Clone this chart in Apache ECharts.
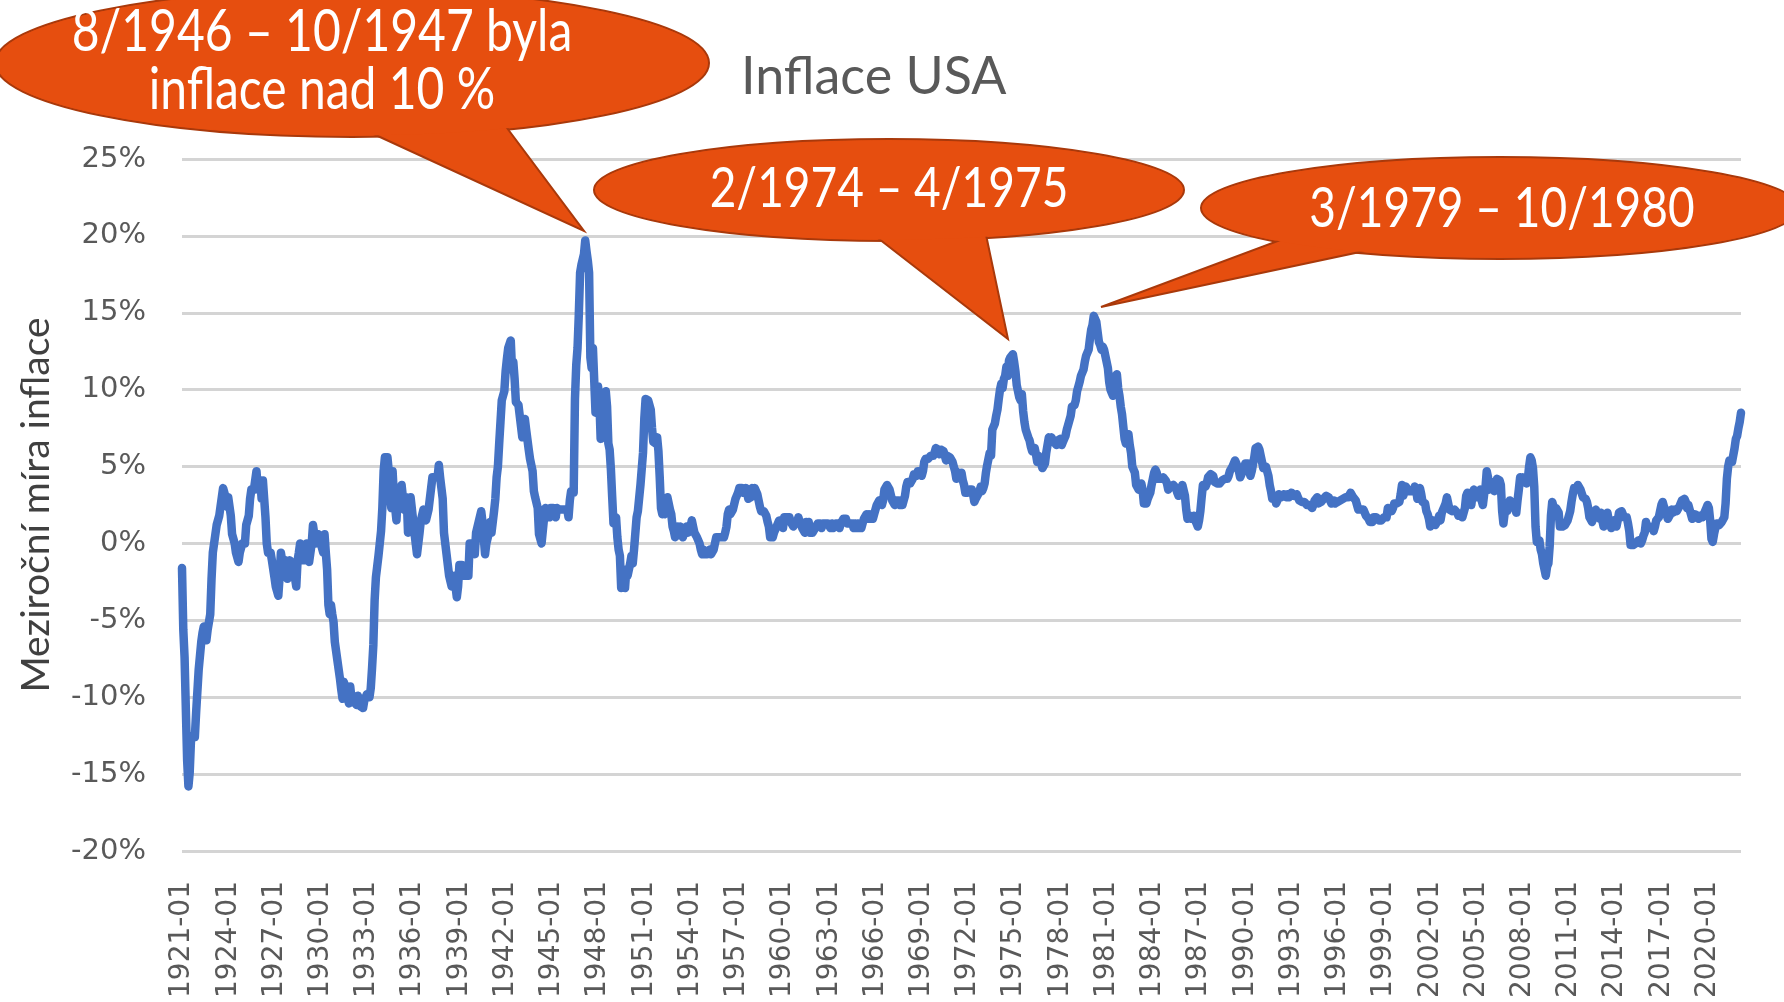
<!DOCTYPE html>
<html>
<head>
<meta charset="utf-8">
<title>Inflace USA</title>
<script src="https://cdn.jsdelivr.net/npm/echarts@6/dist/echarts.min.js"></script>
<style>
  html, body { margin: 0; padding: 0; background: #fff; }
  #chart { width: 1784px; height: 1002px; }
</style>
</head>
<body>
<div id="chart"></div>
<script>
// meziroční inflace USA (CPI-U), měsíčně, v %
const prvniRok = 1921
const inflace = [
  -1.6, -5.6, -7.4, -10.8, -14.1, -15.8, -14.9, -12.8, -12.5, -12.5, -12.6, -11.0, // 1921
  -11.1, -8.2, -8.2, -6.4, -5.8, -5.4, -5.3, -6.3, -5.6, -5.6, -4.6, -2.3, // 1922
  -0.6, 0.0, 0.6, 1.2, 1.2, 1.8, 2.4, 3.0, 3.6, 3.6, 3.0, 2.4, // 1923
  3.0, 2.4, 1.8, 0.6, 0.6, 0.0, -0.6, -0.6, -1.2, -0.6, -0.6, 0.0, // 1924
  0.0, 0.0, 1.2, 1.2, 1.8, 2.9, 3.5, 3.5, 3.5, 3.5, 4.7, 3.5, // 1925
  3.5, 4.1, 2.9, 4.1, 2.9, 1.7, 0.0, -0.6, -0.6, -0.6, -1.1, -1.1, // 1926
  -2.2, -2.8, -2.8, -3.4, -2.2, -0.6, -1.1, -1.1, -1.7, -1.1, -2.3, -2.3, // 1927
  -1.1, -1.7, -1.7, -1.7, -1.7, -2.8, -1.1, -0.6, 0.0, -1.1, -0.6, -1.1, // 1928
  -1.2, 0.0, -0.6, -1.2, -1.2, 0.0, 1.2, 1.2, 0.0, 0.0, 0.6, 0.6, // 1929
  0.0, 0.0, -0.6, 0.6, -0.6, -1.7, -4.0, -4.6, -4.0, -4.6, -5.1, -6.4, // 1930
  -7.0, -7.6, -7.6, -8.8, -9.5, -10.1, -9.0, -8.9, -9.6, -9.7, -10.4, -9.3, // 1931
  -10.1, -10.2, -10.3, -10.4, -10.5, -9.9, -9.9, -10.6, -10.7, -10.7, -10.2, -10.3, // 1932
  -9.8, -9.9, -10.0, -9.4, -8.1, -6.6, -3.7, -2.2, -1.5, -0.8, -0.8, 0.8, // 1933
  2.3, 4.7, 5.6, 5.6, 5.6, 4.7, 3.1, 2.3, 4.7, 3.1, 2.3, 1.5, // 1934
  3.0, 3.0, 3.0, 3.8, 3.8, 2.2, 2.2, 3.0, 0.7, 1.5, 3.0, 3.0, // 1935
  1.5, 0.7, 0.0, -0.7, -0.7, 0.7, 1.5, 1.5, 2.2, 2.2, 1.5, 1.5, // 1936
  2.2, 2.2, 3.6, 4.3, 4.3, 4.3, 4.3, 4.3, 5.1, 4.3, 3.6, 2.9, // 1937
  0.7, 0.0, -0.7, -0.7, -2.1, -2.1, -2.8, -2.8, -2.1, -2.8, -3.5, -2.8, // 1938
  -1.4, -1.4, -1.4, -2.1, -2.1, -2.1, -2.1, -2.1, 0.0, 0.0, 0.0, 0.0, // 1939
  -0.7, 0.7, 0.7, 1.4, 1.4, 2.1, 1.4, 1.4, -0.7, 0.0, 0.0, 0.7, // 1940
  1.4, 0.7, 1.4, 2.1, 2.9, 4.3, 5.0, 6.5, 7.9, 9.3, 9.3, 9.9, // 1941
  11.2, 12.0, 12.7, 12.6, 13.2, 11.3, 11.8, 10.7, 9.2, 9.1, 9.0, 9.0, // 1942
  7.6, 6.9, 7.5, 8.1, 7.4, 7.4, 6.1, 5.5, 5.4, 4.7, 3.4, 3.0, // 1943
  3.0, 2.3, 0.6, 0.6, 0.0, 0.0, 1.7, 2.3, 1.7, 1.7, 1.7, 2.3, // 1944
  2.3, 2.3, 2.3, 1.7, 2.3, 2.2, 2.2, 2.2, 2.2, 2.2, 2.2, 2.2, // 1945
  2.2, 1.7, 2.8, 3.4, 3.3, 3.3, 9.4, 11.6, 12.7, 14.9, 17.6, 18.1, // 1946
  18.1, 18.8, 19.7, 19.0, 18.4, 17.6, 12.1, 11.4, 12.7, 10.6, 8.5, 8.8, // 1947
  10.2, 9.3, 6.8, 8.7, 9.1, 9.5, 9.9, 8.9, 6.5, 6.1, 4.8, 3.0, // 1948
  1.3, 1.3, 1.7, 0.4, -0.4, -0.8, -2.9, -2.9, -2.5, -2.9, -1.7, -2.1, // 1949
  -2.1, -1.3, -0.8, -1.3, -0.4, -0.4, 1.7, 2.1, 2.1, 3.8, 3.8, 5.9, // 1950
  8.1, 9.4, 9.3, 9.3, 9.3, 8.7, 7.5, 6.6, 6.6, 6.5, 6.9, 6.0, // 1951
  4.3, 2.3, 1.9, 2.3, 1.9, 2.3, 3.0, 3.0, 2.2, 1.9, 1.1, 0.8, // 1952
  0.4, 0.8, 1.1, 0.8, 1.1, 1.1, 0.4, 0.7, 0.7, 1.1, 0.7, 0.7, // 1953
  1.1, 1.5, 1.1, 0.7, 0.7, 0.4, 0.4, 0.0, -0.4, -0.7, -0.4, -0.7, // 1954
  -0.7, -0.7, -0.7, -0.4, -0.7, -0.7, -0.4, -0.4, 0.4, 0.4, 0.4, 0.4, // 1955
  0.4, 0.4, 0.4, 0.7, 1.1, 1.9, 2.2, 1.9, 1.9, 2.2, 2.2, 2.9, // 1956
  2.9, 3.3, 3.6, 3.6, 3.6, 3.3, 3.3, 3.6, 3.3, 2.9, 3.3, 3.0, // 1957
  3.6, 3.2, 3.6, 3.6, 3.2, 2.8, 2.4, 2.1, 2.1, 2.1, 2.1, 1.8, // 1958
  1.4, 1.1, 0.4, 0.4, 0.4, 0.7, 0.7, 1.1, 1.1, 1.5, 1.5, 1.5, // 1959
  1.0, 1.7, 1.7, 1.7, 1.7, 1.7, 1.4, 1.4, 1.1, 1.4, 1.4, 1.4, // 1960
  1.7, 1.4, 1.4, 1.0, 1.0, 0.7, 1.4, 1.0, 1.4, 0.7, 0.7, 0.7, // 1961
  0.7, 1.0, 1.0, 1.3, 1.3, 1.3, 1.0, 1.3, 1.3, 1.3, 1.3, 1.3, // 1962
  1.3, 1.0, 1.3, 1.0, 1.0, 1.3, 1.3, 1.3, 1.0, 1.3, 1.3, 1.6, // 1963
  1.6, 1.6, 1.3, 1.3, 1.3, 1.3, 1.3, 1.0, 1.3, 1.0, 1.3, 1.0, // 1964
  1.0, 1.0, 1.3, 1.6, 1.6, 1.9, 1.6, 1.9, 1.6, 1.9, 1.6, 1.9, // 1965
  1.9, 2.5, 2.5, 2.8, 2.8, 2.5, 2.8, 3.5, 3.5, 3.8, 3.8, 3.5, // 1966
  3.5, 2.8, 2.8, 2.5, 2.8, 2.8, 2.8, 2.5, 2.8, 2.5, 2.8, 3.1, // 1967
  3.7, 4.0, 4.0, 3.9, 3.9, 4.2, 4.5, 4.5, 4.4, 4.7, 4.7, 4.7, // 1968
  4.4, 4.7, 5.3, 5.5, 5.5, 5.5, 5.4, 5.7, 5.7, 5.7, 5.9, 6.2, // 1969
  6.2, 6.1, 5.8, 6.1, 6.1, 6.0, 6.0, 5.4, 5.7, 5.7, 5.6, 5.6, // 1970
  5.3, 5.0, 4.7, 4.2, 4.4, 4.6, 4.4, 4.6, 4.1, 3.8, 3.3, 3.3, // 1971
  3.3, 3.5, 3.5, 3.5, 3.2, 2.7, 2.9, 2.9, 3.2, 3.4, 3.7, 3.4, // 1972
  3.6, 3.9, 4.6, 5.1, 5.5, 5.9, 5.7, 7.4, 7.4, 7.8, 8.3, 8.7, // 1973
  9.4, 10.0, 10.4, 10.1, 10.7, 10.9, 11.5, 10.9, 11.9, 12.1, 12.2, 12.3, // 1974
  11.8, 11.2, 10.3, 10.2, 9.5, 9.3, 9.7, 8.6, 7.9, 7.4, 7.4, 6.9, // 1975
  6.7, 6.3, 6.0, 6.1, 6.2, 5.8, 5.3, 5.7, 5.5, 5.5, 4.9, 4.9, // 1976
  5.2, 5.9, 6.4, 6.9, 6.7, 6.9, 6.8, 6.6, 6.6, 6.4, 6.7, 6.7, // 1977
  6.8, 6.4, 6.6, 6.5, 7.0, 7.4, 7.7, 7.8, 8.3, 8.9, 8.9, 9.0, // 1978
  9.3, 9.9, 10.2, 10.5, 10.9, 10.9, 11.3, 11.8, 12.2, 12.1, 12.6, 13.3, // 1979
  13.9, 14.2, 14.8, 14.7, 14.4, 14.4, 13.1, 12.9, 12.6, 12.8, 12.6, 12.5, // 1980
  11.8, 11.4, 10.5, 10.0, 9.8, 9.6, 10.8, 10.8, 11.0, 10.1, 9.6, 8.9, // 1981
  8.4, 7.6, 6.8, 6.5, 6.7, 7.1, 6.4, 5.9, 5.0, 5.1, 4.6, 3.8, // 1982
  3.7, 3.5, 3.6, 3.9, 3.5, 2.6, 2.5, 2.6, 2.9, 2.9, 3.3, 3.8, // 1983
  4.2, 4.6, 4.8, 4.6, 4.2, 4.2, 4.2, 4.3, 4.3, 4.3, 4.1, 3.9, // 1984
  3.5, 3.5, 3.7, 3.7, 3.8, 3.8, 3.6, 3.3, 3.1, 3.2, 3.5, 3.8, // 1985
  3.9, 3.1, 2.2, 1.6, 1.5, 1.8, 1.6, 1.6, 1.8, 1.5, 1.3, 1.1, // 1986
  1.5, 2.1, 3.0, 3.8, 3.9, 3.7, 3.9, 4.3, 4.4, 4.5, 4.5, 4.4, // 1987
  4.0, 3.9, 3.9, 3.9, 3.9, 4.0, 4.1, 4.0, 4.2, 4.2, 4.2, 4.4, // 1988
  4.7, 4.8, 5.0, 5.1, 5.4, 5.2, 5.0, 4.7, 4.3, 4.5, 4.7, 4.6, // 1989
  5.2, 5.3, 5.2, 4.7, 4.4, 4.7, 4.8, 5.6, 6.2, 6.3, 6.3, 6.1, // 1990
  5.7, 5.3, 4.9, 4.9, 5.0, 4.7, 4.4, 3.8, 3.4, 2.9, 3.0, 3.1, // 1991
  2.6, 2.8, 3.2, 3.2, 3.0, 3.1, 3.2, 3.1, 3.0, 3.2, 3.0, 2.9, // 1992
  3.3, 3.2, 3.1, 3.2, 3.2, 3.0, 2.8, 2.8, 2.7, 2.8, 2.7, 2.7, // 1993
  2.5, 2.5, 2.5, 2.4, 2.3, 2.5, 2.8, 2.9, 3.0, 2.6, 2.7, 2.7, // 1994
  2.8, 2.9, 2.9, 3.1, 3.2, 3.0, 2.8, 2.6, 2.5, 2.8, 2.6, 2.5, // 1995
  2.7, 2.7, 2.8, 2.9, 2.9, 2.8, 3.0, 2.9, 3.0, 3.0, 3.3, 3.3, // 1996
  3.0, 3.0, 2.8, 2.5, 2.2, 2.3, 2.2, 2.2, 2.2, 2.1, 1.8, 1.7, // 1997
  1.6, 1.4, 1.4, 1.4, 1.7, 1.7, 1.7, 1.6, 1.5, 1.5, 1.5, 1.6, // 1998
  1.7, 1.6, 1.7, 2.3, 2.1, 2.0, 2.1, 2.3, 2.6, 2.6, 2.6, 2.7, // 1999
  2.7, 3.2, 3.8, 3.1, 3.2, 3.7, 3.7, 3.4, 3.5, 3.4, 3.4, 3.4, // 2000
  3.7, 3.5, 2.9, 3.3, 3.6, 3.2, 2.7, 2.7, 2.6, 2.1, 1.9, 1.6, // 2001
  1.1, 1.1, 1.5, 1.6, 1.2, 1.1, 1.5, 1.8, 1.5, 2.0, 2.2, 2.4, // 2002
  2.6, 3.0, 3.0, 2.2, 2.1, 2.1, 2.1, 2.2, 2.3, 2.0, 1.8, 1.9, // 2003
  1.9, 1.7, 1.7, 2.3, 3.1, 3.3, 3.0, 2.7, 2.5, 3.2, 3.5, 3.3, // 2004
  3.0, 3.0, 3.1, 3.5, 2.8, 2.5, 3.2, 3.6, 4.7, 4.3, 3.5, 3.4, // 2005
  4.0, 3.6, 3.4, 3.5, 4.2, 4.3, 4.1, 3.8, 2.1, 1.3, 2.0, 2.5, // 2006
  2.1, 2.4, 2.8, 2.6, 2.7, 2.7, 2.4, 2.0, 2.8, 3.5, 4.3, 4.1, // 2007
  4.3, 4.0, 4.0, 3.9, 4.2, 5.0, 5.6, 5.4, 4.9, 3.7, 1.1, 0.1, // 2008
  0.0, 0.2, -0.4, -0.7, -1.3, -1.4, -2.1, -1.5, -1.3, -0.2, 1.8, 2.7, // 2009
  2.6, 2.1, 2.3, 2.2, 2.0, 1.1, 1.2, 1.1, 1.1, 1.2, 1.1, 1.5, // 2010
  1.6, 2.1, 2.7, 3.2, 3.6, 3.6, 3.6, 3.8, 3.9, 3.5, 3.4, 3.0, // 2011
  2.9, 2.9, 2.7, 2.3, 1.7, 1.7, 1.4, 1.7, 2.0, 2.2, 1.8, 1.7, // 2012
  1.6, 2.0, 1.5, 1.1, 1.4, 1.8, 2.0, 1.5, 1.2, 1.0, 1.2, 1.5, // 2013
  1.6, 1.1, 1.5, 2.0, 2.1, 2.1, 2.0, 1.7, 1.7, 1.7, 1.3, 0.8, // 2014
  -0.1, 0.0, -0.1, -0.2, 0.0, 0.1, 0.2, 0.2, 0.0, 0.2, 0.5, 0.7, // 2015
  1.4, 1.0, 0.9, 1.1, 1.0, 1.0, 0.8, 1.1, 1.5, 1.6, 1.7, 2.1, // 2016
  2.5, 2.7, 2.4, 2.2, 1.9, 1.6, 1.7, 1.9, 2.2, 2.0, 2.2, 2.1, // 2017
  2.1, 2.2, 2.4, 2.5, 2.8, 2.9, 2.9, 2.7, 2.3, 2.5, 2.2, 1.9, // 2018
  1.6, 1.5, 1.9, 2.0, 1.8, 1.6, 1.8, 1.7, 1.7, 1.8, 2.1, 2.3, // 2019
  2.5, 2.3, 1.5, 0.3, 0.1, 0.6, 1.0, 1.3, 1.4, 1.2, 1.2, 1.4, // 2020
  1.4, 1.7, 2.6, 4.2, 5.0, 5.4, 5.4, 5.3, 5.4, 6.2, 6.8, 7.0, // 2021
  7.5, 7.9, 8.5 // 2022
]

// popisky osy x: rok-měsíc
const mesice = inflace.map((v, i) => {
  const rok = prvniRok + Math.floor(i / 12)
  const m = (i % 12) + 1
  return rok + '-' + (m < 10 ? '0' + m : m)
})

// osa y
const yMin = -20
const yMax = 25
const yKrok = 5

// bubliny s komentářem
const bubliny = [
  { text: '8/1946 – 10/1947 byla\ninflace nad 10 %', size: 48, cx: 352, cy: 63, rx: 357, ry: 74, tx: 322, ty: 61, ocas: [[356, 126], [501, 120], [584, 231]] },
  { text: '2/1974 – 4/1975', size: 46, cx: 889, cy: 190, rx: 295, ry: 51, tx: 889, ty: 189, ocas: [[870, 232], [985, 230], [1008, 339]] },
  { text: '3/1979 – 10/1980', size: 46, cx: 1500, cy: 208, rx: 299, ry: 51, tx: 1502, ty: 209, ocas: [[1291, 236], [1388, 246], [1101, 307]] }
]

const oranzova = '#E64E0F'
const okraj = '#A9390B'

function bublinaGrafika (b) {
  return [
    { type: 'ellipse', shape: { cx: b.cx, cy: b.cy, rx: b.rx, ry: b.ry }, style: { fill: oranzova, stroke: okraj, lineWidth: 2 }, z: 100 },
    { type: 'polygon', shape: { points: b.ocas }, style: { fill: oranzova, stroke: okraj, lineWidth: 2 }, z: 101 },
    { type: 'ellipse', shape: { cx: b.cx, cy: b.cy, rx: b.rx - 1.5, ry: b.ry - 1.5 }, style: { fill: oranzova }, z: 102 },
    {
      type: 'text', x: b.tx, y: b.ty, z: 103,
      scaleY: 1.22,
      style: { text: b.text, fill: '#fff', font: b.size + 'px Lato', align: 'center', verticalAlign: 'middle', lineHeight: 47 }
    }
  ]
}

let graf = echarts.init(document.getElementById('chart'))

let grafika = []
bubliny.forEach(b => {
  grafika = grafika.concat(bublinaGrafika(b))
})

const option = {
  animation: false,
  backgroundColor: '#fff',
  title: {
    text: 'Inflace USA',
    left: 736,
    top: 46,
    textStyle: { fontFamily: 'Lato', fontSize: 52, fontWeight: 'normal', color: '#595959' }
  },
  grid: { left: 182, right: 43, top: 159, bottom: 151 },
  xAxis: {
    type: 'category',
    data: mesice,
    boundaryGap: false,
    axisLine: { show: false },
    axisTick: { show: false },
    axisLabel: {
      interval: 35,
      rotate: 90,
      margin: 30,
      fontFamily: 'DejaVu Sans',
      fontSize: 28,
      color: '#595959'
    },
    splitLine: { show: false }
  },
  yAxis: {
    type: 'value',
    min: yMin,
    max: yMax,
    interval: yKrok,
    name: 'Meziroční míra inflace',
    nameLocation: 'middle',
    nameRotate: 90,
    nameGap: 126,
    nameTextStyle: { fontFamily: 'Lato', fontSize: 39, color: '#404040' },
    axisLine: { show: false },
    axisTick: { show: false },
    axisLabel: {
      formatter: '{value}%',
      margin: 36,
      fontFamily: 'DejaVu Sans',
      fontSize: 29,
      color: '#595959'
    },
    splitLine: { lineStyle: { color: '#d4d4d4', width: 3 } }
  },
  series: [
    {
      type: 'line',
      data: inflace,
      showSymbol: false,
      sampling: null,
      lineStyle: { color: '#4472C4', width: 8.5, join: 'round', cap: 'round' },
      z: 2
    }
  ],
  graphic: grafika
}

graf.setOption(option)
</script>
</body>
</html>
